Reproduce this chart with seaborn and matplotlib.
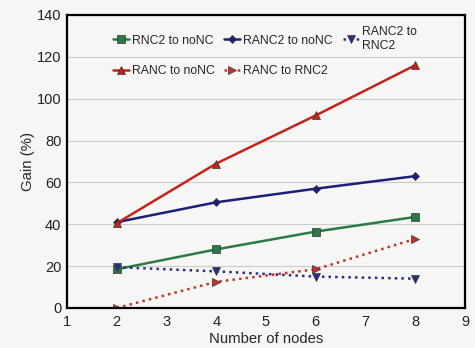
import pandas as pd
import seaborn as sns
from matplotlib import pyplot as plt

# data
nodes = [2, 4, 6, 8]
rnc2_to_nonc = [18.5, 28, 36.5, 43.5]
ranc2_to_nonc = [41, 50.5, 57, 63]
ranc2_to_rnc2 = [19.5, 17.5, 15, 14]
ranc_to_nonc = [40.5, 69, 92, 116]
ranc_to_rnc2 = [0, 12.5, 18.5, 33]

series = [
    ('RNC2 to noNC', rnc2_to_nonc, '#2b7a45', 's', '-'),
    ('RANC2 to noNC', ranc2_to_nonc, '#1c1f78', 'D', '-'),
    ('RANC2 to\nRNC2', ranc2_to_rnc2, '#2a2d88', 'v', ':'),
    ('RANC to noNC', ranc_to_nonc, '#c4221b', '^', '-'),
    ('RANC to RNC2', ranc_to_rnc2, '#c8302a', '>', ':'),
]

sns.set_style("whitegrid", {'axes.grid': True})
plt.rcParams['font.family'] = ['Liberation Sans', 'DejaVu Sans']

fig = plt.figure(figsize=(4.75, 3.48), dpi=100)
ax = fig.add_axes([0.141, 0.115, 0.838, 0.842])
fig.patch.set_facecolor('#f6f6f4')
ax.set_facecolor('#f6f6f4')

for label, vals, color, marker, ls in series:
    df = pd.DataFrame({'nodes': nodes, 'gain': vals})
    sns.lineplot(data=df, x='nodes', y='gain', ax=ax, color=color,
                 marker=marker, linestyle=ls, linewidth=1.8,
                 markersize=6 if marker != 'D' else 4.5,
                 markeredgecolor='#333333', markeredgewidth=0.5,
                 label=label)

ax.set_xlim(1, 9)
ax.set_ylim(0, 140)
ax.set_xticks(range(1, 10))
ax.set_yticks(range(0, 141, 20))
ax.grid(axis='x', visible=False)
ax.grid(axis='y', color='#cccccc', linewidth=0.8)
for s in ax.spines.values():
    s.set_color('black')
    s.set_linewidth(1.6)
ax.tick_params(labelsize=10.5, length=0, colors='#222222')
ax.tick_params(axis='x', pad=5)
ax.tick_params(axis='y', pad=4)
ax.set_xlabel('Number of nodes', fontsize=10.7, labelpad=2)
ax.set_ylabel('Gain (%)', fontsize=10.8, labelpad=1)

# matplotlib fills legend columns first, reorder so rows read like the original
handles, labels = ax.get_legend_handles_labels()
order = [0, 3, 1, 4, 2]
ax.legend([handles[i] for i in order], [labels[i] for i in order],
          ncol=3, frameon=False, loc='upper left', bbox_to_anchor=(0.1, 0.982),
          fontsize=8.8, handlelength=1.3, handletextpad=0.25, columnspacing=0.8,
          labelspacing=1.5, borderpad=0)

plt.savefig('out.png', dpi=100, facecolor=fig.get_facecolor())
